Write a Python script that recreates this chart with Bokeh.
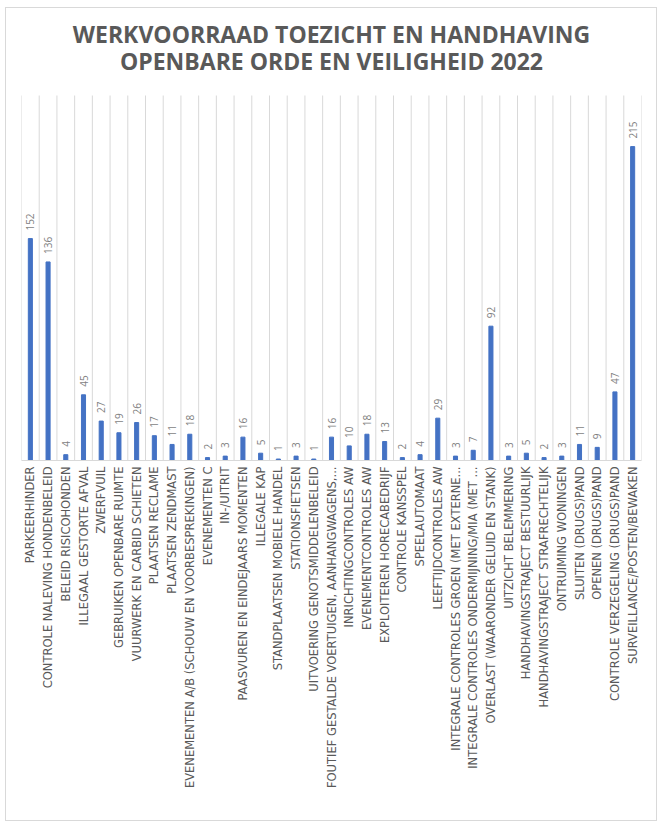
import math
from bokeh.plotting import figure
from bokeh.models import Range1d, FixedTicker, ColumnDataSource
from bokeh.core.properties import value
from bokeh.embed import file_html
from bokeh.resources import INLINE

categories = [
    "PARKEERHINDER",
    "CONTROLE NALEVING HONDENBELEID",
    "BELEID RISICOHONDEN",
    "ILLEGAAL GESTORTE AFVAL",
    "ZWERFVUIL",
    "GEBRUIKEN OPENBARE RUIMTE",
    "VUURWERK EN CARBID SCHIETEN",
    "PLAATSEN RECLAME",
    "PLAATSEN ZENDMAST",
    "EVENEMENTEN A/B (SCHOUW EN VOORBESPREKINGEN)",
    "EVENEMENTEN C",
    "IN-/UITRIT",
    "PAASVUREN EN EINDEJAARS MOMENTEN",
    "ILLEGALE KAP",
    "STANDPLAATSEN MOBIELE HANDEL",
    "STATIONSFIETSEN",
    "UITVOERING GENOTSMIDDELENBELEID",
    "FOUTIEF GESTALDE VOERTUIGEN, AANHANGWAGENS,...",
    "INRICHTINGCONTROLES AW",
    "EVENEMENTCONTROLES AW",
    "EXPLOITEREN HORECABEDRIJF",
    "CONTROLE KANSSPEL",
    "SPEELAUTOMAAT",
    "LEEFTIJDCONTROLES AW",
    "INTEGRALE CONTROLES GROEN (MET EXTERNE...",
    "INTEGRALE CONTROLES ONDERMIJNING/MIA (MET ...",
    "OVERLAST (WAARONDER GELUID EN STANK)",
    "UITZICHT BELEMMERING",
    "HANDHAVINGSTRAJECT BESTUURLIJK",
    "HANDHAVINGSTRAJECT STRAFRECHTELIJK",
    "ONTRUIMING WONINGEN",
    "SLUITEN (DRUGS)PAND",
    "OPENEN (DRUGS)PAND",
    "CONTROLE VERZEGELING (DRUGS)PAND",
    "SURVEILLANCE/POSTEN/BEWAKEN",
]
values = [152, 136, 4, 45, 27, 19, 26, 17, 11, 18, 2, 3, 16, 5, 1, 3, 1, 16, 10, 18,
          13, 2, 4, 29, 3, 7, 92, 3, 5, 2, 3, 11, 9, 47, 215]
title_lines = ["WERKVOORRAAD TOEZICHT EN HANDHAVING", "OPENBARE ORDE EN VEILIGHEID 2022"]
y_max = 250

n = len(categories)
xs = list(range(1, n + 1))
src = ColumnDataSource(dict(x=xs, top=values, lbl=[str(v) for v in values]))

# canvas geometry (pixels)
W, H = 652, 814
top_px = 87        # from canvas top to the value-axis maximum
plot_px = 365      # height of the value area
bottom_px = H - top_px - plot_px
y_end = y_max * (plot_px + top_px) / plot_px

p = figure(width=W, height=H, output_backend="svg", toolbar_location=None,
           x_range=Range1d(0.5, n + 0.5), y_range=Range1d(0, y_end),
           min_border_left=15, min_border_right=17, min_border_top=0, min_border_bottom=bottom_px)
p.styles = {"border": "1px solid #d9d9d9", "margin-left": "5px", "margin-top": "7px"}
p.outline_line_color = None
p.background_fill_color = "white"
p.border_fill_color = "white"

# category separators (vertical grid lines) up to the value maximum
bounds = [i + 0.5 for i in range(n + 1)]
p.segment(x0=bounds, y0=[0] * len(bounds), x1=bounds, y1=[y_max] * len(bounds),
          line_color="#d9d9d9", line_width=1)

# title
p.text(x=[(n + 1) / 2] * 2, y=[y_max] * 2, text=title_lines, y_offset=[-62, -35],
       text_align="center", text_baseline="middle", text_font=value("Open Sans"),
       text_font_size="23px", text_font_style="bold", text_color="#595959")

p.vbar(x="x", top="top", width=0.23, source=src, color="#4472C4")
p.text(x="x", y="top", text="lbl", source=src, angle=math.pi / 2, text_align="left",
       text_baseline="middle", y_offset=-8, text_font=value("Open Sans"),
       text_font_size="10px", text_color="#7f7f7f")

p.yaxis.visible = False
p.ygrid.visible = False
p.xgrid.visible = False
p.xaxis.ticker = FixedTicker(ticks=xs)
p.xaxis.major_label_overrides = {x: c for x, c in zip(xs, categories)}
p.xaxis.major_label_orientation = math.pi / 2
p.xaxis.major_label_text_font = "DejaVu Sans"
p.xaxis.major_label_text_font_size = "11.5px"
p.xaxis.major_label_text_color = "#595959"
p.xaxis.major_tick_line_color = None
p.xaxis.minor_tick_line_color = None
p.xaxis.major_tick_out = 0
p.xaxis.major_tick_in = 0
p.xaxis.major_label_standoff = 6
p.xaxis.axis_line_color = "#d9d9d9"

open("out.html", "w").write(file_html(p, INLINE))
